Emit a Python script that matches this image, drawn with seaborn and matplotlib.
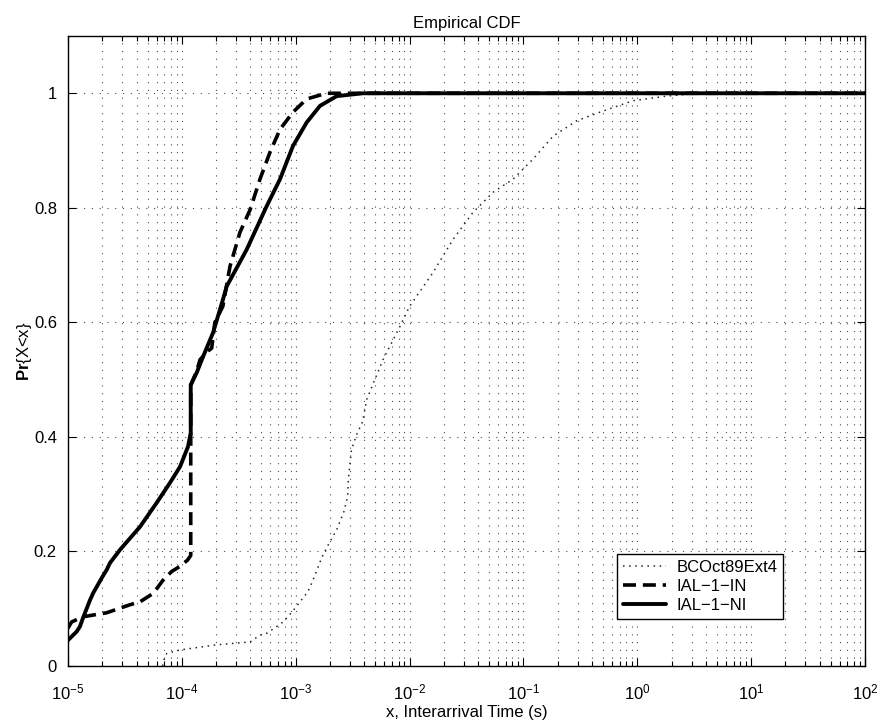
import numpy as np
import pandas as pd
import matplotlib
matplotlib.use("Agg")
import matplotlib.pyplot as plt
from matplotlib.ticker import FixedLocator, FixedFormatter, NullFormatter, LogFormatterSciNotation
import seaborn as sns

# Interarrival time CDFs: x stored as log10(seconds), y as cumulative probability
bc_log10x = [-4.17, -4.163, -4.133, -4.016, -3.694, -3.40, -3.314, -3.255, -3.167, -3.11,
             -3.021, -2.892, -2.848, -2.772, -2.716, -2.64, -2.576, -2.544, -2.538, -2.523,
             -2.51, -2.465, -2.412, -2.377, -2.233, -2.084, -2.0, -1.794, -1.618, -1.443,
             -1.267, -1.092, -0.916, -0.74, -0.532, -0.328, -0.038, 0.258, 0.55, 2.0]
bc_cdf = [0.0, 0.008, 0.022, 0.028, 0.037, 0.042, 0.054, 0.057, 0.069, 0.077,
          0.097, 0.13, 0.15, 0.189, 0.211, 0.238, 0.27, 0.296, 0.325, 0.355,
          0.378, 0.404, 0.427, 0.465, 0.535, 0.593, 0.628, 0.687, 0.745, 0.792,
          0.827, 0.85, 0.885, 0.925, 0.952, 0.967, 0.987, 0.995, 1.0, 1.0]

in_log10x = [-5.0, -4.968, -4.9, -4.866, -4.66, -4.455, -4.368, -4.25, -4.165, -4.09,
             -4.016, -3.95, -3.922, -3.922, -3.87, -3.84, -3.77, -3.738, -3.71, -3.64,
             -3.577, -3.49, -3.40, -3.314, -3.226, -3.138, -3.024, -2.904, -2.73, 2.0]
in_cdf = [0.066, 0.077, 0.083, 0.086, 0.093, 0.107, 0.112, 0.127, 0.15, 0.165,
          0.174, 0.185, 0.193, 0.49, 0.515, 0.535, 0.55, 0.555, 0.6, 0.628,
          0.698, 0.757, 0.797, 0.85, 0.897, 0.937, 0.967, 0.99, 1.0, 1.0]

ni_log10x = [-5.0, -4.95, -4.924, -4.895, -4.868, -4.807, -4.78, -4.70, -4.66, -4.631,
             -4.543, -4.368, -4.221, -4.104, -4.016, -3.946, -3.922, -3.922, -3.87, -3.814,
             -3.726, -3.639, -3.606, -3.431, -3.255, -3.138, -3.024, -2.904, -2.787, -2.64,
             -2.41, 2.0]
ni_cdf = [0.045, 0.055, 0.06, 0.069, 0.084, 0.115, 0.127, 0.155, 0.168, 0.18,
          0.203, 0.243, 0.285, 0.32, 0.348, 0.383, 0.407, 0.491, 0.512, 0.54,
          0.582, 0.64, 0.663, 0.727, 0.803, 0.85, 0.908, 0.949, 0.978, 0.995,
          1.0, 1.0]

series_names = ["BCOct89Ext4", "IAL\u22121\u2212IN", "IAL\u22121\u2212NI"]
x_decades = [-5, -4, -3, -2, -1, 0, 1, 2]
y_ticks = [0, 0.2, 0.4, 0.6, 0.8, 1.0]
y_tick_labels = ["0", "0.2", "0.4", "0.6", "0.8", "1"]

sns.set_theme(style="white")
plt.rcParams["font.family"] = ["Liberation Sans", "DejaVu Sans"]
plt.rcParams["mathtext.fontset"] = "custom"
plt.rcParams["mathtext.rm"] = "Liberation Sans"
plt.rcParams["mathtext.it"] = "Liberation Sans"
plt.rcParams["mathtext.bf"] = "Liberation Sans:bold"
plt.rcParams["axes.unicode_minus"] = True
plt.rcParams["text.color"] = "black"
plt.rcParams["axes.labelcolor"] = "black"
plt.rcParams["xtick.color"] = "black"
plt.rcParams["ytick.color"] = "black"

fig = plt.figure(figsize=(8.92, 7.24), dpi=100)
ax = fig.add_axes([68 / 892, 1 - 666 / 724, (865 - 68) / 892, (666 - 36) / 724])

styles = [
    dict(color="0.15", lw=1.1, linestyle=(0, (1, 3))),
    dict(color="black", lw=2.6, linestyle=(0, (3.6, 1.9))),
    dict(color="black", lw=2.8, linestyle="-"),
]
for name, lx, cy, st in zip(series_names,
                            [bc_log10x, in_log10x, ni_log10x],
                            [bc_cdf, in_cdf, ni_cdf], styles):
    df = pd.DataFrame({"x": np.power(10.0, lx), "y": cy})
    sns.lineplot(data=df, x="x", y="y", ax=ax, sort=False, estimator=None,
                 label=name, **st)

ax.set_xscale("log")
ax.set_xlim(1e-5, 1e2)
ax.set_ylim(0, 1.1)
major_x = [10.0 ** d for d in x_decades]
minor_x = [m * 10.0 ** d for d in x_decades[:-1] for m in range(2, 10)]
ax.xaxis.set_major_locator(FixedLocator(major_x))
ax.xaxis.set_major_formatter(LogFormatterSciNotation())
ax.xaxis.set_minor_locator(FixedLocator(minor_x))
ax.xaxis.set_minor_formatter(NullFormatter())
ax.yaxis.set_major_locator(FixedLocator(y_ticks))
ax.yaxis.set_major_formatter(FixedFormatter(y_tick_labels))

grid_kw = dict(color="0.3", linestyle=(0, (1, 6)), linewidth=0.8)
ax.grid(True, which="major", axis="both", **grid_kw)
ax.grid(True, which="minor", axis="x", **grid_kw)

for s in ax.spines.values():
    s.set_visible(True)
    s.set_color("black")
    s.set_linewidth(1.0)

ax.tick_params(axis="both", which="both", direction="in", top=True, right=True,
               bottom=True, left=True, colors="black", labelsize=12)
ax.tick_params(which="major", length=6, width=0.8)
ax.tick_params(which="minor", length=3.5, width=0.8)
ax.tick_params(axis="x", pad=12)
ax.tick_params(axis="y", pad=8)

ax.set_title("Empirical CDF", fontsize=12, pad=6)
ax.set_xlabel("x, Interarrival Time (s)", fontsize=12, labelpad=2)
ax.set_ylabel(r"$\mathbf{Pr}${X<x}", fontsize=12, labelpad=0)

leg = ax.legend(loc="lower left", bbox_to_anchor=((617 - 68) / 797, (666 - 619) / 630),
                frameon=True, fancybox=False, fontsize=12, handlelength=2.6,
                borderpad=0.35, labelspacing=0.25, handletextpad=0.6, borderaxespad=0)
leg.get_frame().set_edgecolor("black")
leg.get_frame().set_linewidth(1.0)
leg.get_frame().set_alpha(1.0)

fig.savefig("out.png", dpi=100, facecolor="white")
